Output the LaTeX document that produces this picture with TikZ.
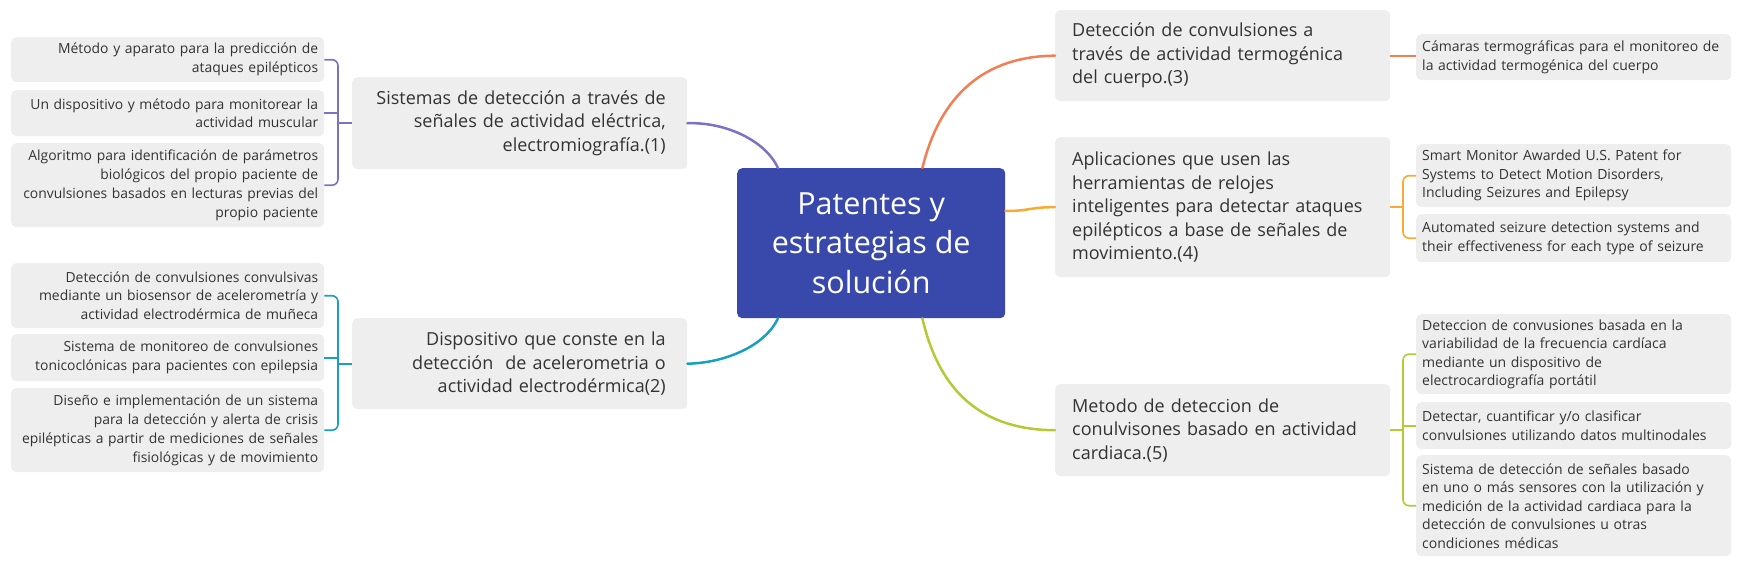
\documentclass[tikz,border=0pt]{standalone}
\usepackage{fontspec}
\setmainfont{Open Sans}
\definecolor{boxgray}{HTML}{EEEEEE}
\definecolor{txt}{HTML}{333333}
\definecolor{ctrfill}{HTML}{3949AB}
\definecolor{cA}{HTML}{7B72C4}
\definecolor{cB}{HTML}{17A0BF}
\definecolor{cC}{HTML}{F47E54}
\definecolor{cD}{HTML}{FAAA33}
\definecolor{cE}{HTML}{B5C934}
\begin{document}
\begin{tikzpicture}[x=1pt,y=-1pt,
  box/.style={fill=boxgray, rounded corners=5pt, text=txt, inner ysep=0pt, anchor=north west},
  leafL/.style={box, font=\fontsize{13.9}{18.8}\selectfont, text width=301pt, inner xsep=6pt, align=right},
  leafR/.style={box, font=\fontsize{14}{18.5}\selectfont, text width=303pt, inner xsep=6pt, align=left},
  branchL/.style={box, font=\fontsize{18}{23.5}\selectfont, text width=292pt, inner xsep=21.5pt, align=right},
  branchR/.style={box, font=\fontsize{18}{23.5}\selectfont, text width=301pt, inner xsep=17pt, align=left},
  ctrbox/.style={fill=ctrfill, rounded corners=5pt, text=white, anchor=north west, inner sep=0pt,
     minimum width=268pt, minimum height=150pt, align=center, font=\fontsize{30.5}{39.5}\selectfont},
  mainline/.style={line width=2.5pt, line cap=round},
  brline/.style={line width=1.6pt, rounded corners=6pt}
]
\useasboundingbox (0,0) rectangle (1742,568);

% left leaves
\node[leafL, minimum height=45pt] (l1a) at (11,37) {Método y aparato para la predicción de\\ataques epilépticos};
\node[leafL, minimum height=46pt] (l1b) at (11,90) {Un dispositivo y método para monitorear la\\actividad muscular};
\node[leafL, minimum height=84pt] (l1c) at (11,143) {Algoritmo para identificación de parámetros\\biológicos del propio paciente de\\convulsiones basados en lecturas previas del\\propio paciente};
\node[leafL, minimum height=65pt] (l2a) at (11,263) {Detección de convulsiones convulsivas\\mediante un biosensor de acelerometría y\\actividad electrodérmica de muñeca};
\node[leafL, minimum height=47pt] (l2b) at (11,334) {Sistema de monitoreo de convulsiones\\tonicoclónicas para pacientes con epilepsia};
\node[leafL, minimum height=84pt] (l2c) at (11,388) {Diseño e implementación de un sistema\\para la detección y alerta de crisis\\epilépticas a partir de mediciones de señales\\fisiológicas y de movimiento};

% left branches
\node[branchL, minimum height=92pt] (b1) at (352,77) {Sistemas de detección a través de\\señales de actividad eléctrica,\\electromiografía.(1)};
\node[branchL, minimum height=91pt] (b2) at (352,318) {Dispositivo que conste en la\\detección\ \ de acelerometria o\\actividad electrodérmica(2)};

% center
\node[ctrbox] (ctr) at (737,168) {Patentes y\\estrategias de\\solución};

% right branches
\node[branchR, minimum height=91pt] (b3) at (1055,10) {Detección de convulsiones a\\través de actividad termogénica\\del cuerpo.(3)};
\node[branchR, minimum height=140pt] (b4) at (1055,137) {Aplicaciones que usen las\\herramientas de relojes\\inteligentes para detectar ataques\\epilépticos a base de señales de\\movimiento.(4)};
\node[branchR, minimum height=92pt] (b5) at (1055,384) {Metodo de deteccion de\\conulvisones basado en actividad\\cardiaca.(5)};

% right leaves
\node[leafR, minimum height=46pt] (r3a) at (1416,34) {Cámaras termográficas para el monitoreo de\\la actividad termogénica del cuerpo};
\node[leafR, minimum height=63pt] (r4a) at (1416,144) {Smart Monitor Awarded U.S. Patent for\\Systems to Detect Motion Disorders,\\Including Seizures and Epilepsy};
\node[leafR, minimum height=48pt] (r4b) at (1416,214) {Automated seizure detection systems and\\their effectiveness for each type of seizure};
\node[leafR, minimum height=80pt] (r5a) at (1416,314) {Deteccion de convusiones basada en la\\variabilidad de la frecuencia cardíaca\\mediante un dispositivo de\\electrocardiografía portátil};
\node[leafR, minimum height=47pt] (r5b) at (1416,402) {Detectar, cuantificar y/o clasificar\\convulsiones utilizando datos multinodales};
\node[leafR, minimum height=101pt] (r5c) at (1416,455) {Sistema de detección de señales basado\\en uno o más sensores con la utilización y\\medición de la actividad cardiaca para la\\detección de convulsiones u otras\\condiciones médicas};

% main connectors
\draw[mainline, cA] ([xshift=41pt]ctr.north west) .. controls (765,140) and (725,122) .. (b1.east);
\draw[mainline, cB] ([xshift=41pt]ctr.south west) .. controls (765,346) and (725,363) .. (b2.east);
\draw[mainline, cC] ([xshift=-83pt]ctr.north east) .. controls (940,95) and (985,56) .. (b3.west);
\draw[mainline, cD] ([yshift=-43pt]ctr.north east) .. controls (1030,211) and (1030,207) .. (b4.west);
\draw[mainline, cE] ([xshift=-83pt]ctr.south east) .. controls (940,395) and (985,430) .. (b5.west);

% brackets
\coordinate (jl) at (338,0);
\coordinate (jr) at (1403,0);
\draw[brline, cA] (l1a.east) -- (l1a.east -| jl) -- (l1c.east -| jl) -- (l1c.east);
\draw[brline, cA] (l1b.east) -- (l1b.east -| jl);
\draw[brline, cA] (b1.west) -- (b1.west -| jl);
\draw[brline, cB] (l2a.east) -- (l2a.east -| jl) -- (l2c.east -| jl) -- (l2c.east);
\draw[brline, cB] (l2b.east) -- (l2b.east -| jl);
\draw[brline, cB] (b2.west) -- (b2.west -| jl);
\draw[brline, cC] (b3.east) -- (b3.east -| r3a.west);
\draw[brline, cD] (r4a.west) -- (r4a.west -| jr) -- (r4b.west -| jr) -- (r4b.west);
\draw[brline, cD] (b4.east) -- (b4.east -| jr);
\draw[brline, cE] (r5a.west) -- (r5a.west -| jr) -- (r5c.west -| jr) -- (r5c.west);
\draw[brline, cE] (r5b.west) -- (r5b.west -| jr);
\draw[brline, cE] (b5.east) -- (b5.east -| jr);
\end{tikzpicture}
\end{document}
